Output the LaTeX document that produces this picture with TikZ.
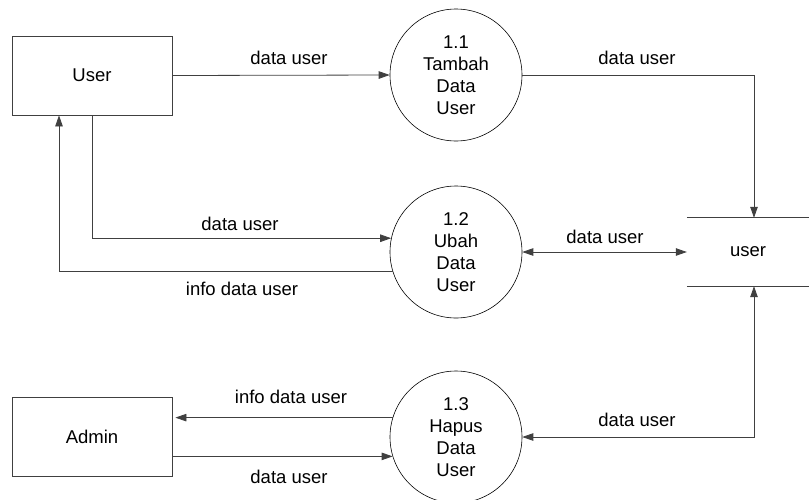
\documentclass[tikz,border=0pt]{standalone}
\usepackage{fontspec}
\setmainfont{Liberation Sans}
\usetikzlibrary{arrows.meta}

\definecolor{edgeclr}{gray}{0.25}

\tikzset{
  x=1pt, y=1pt,
  every node/.style={font=\fontsize{18.5}{22}\selectfont},
  entity/.style={draw=edgeclr, line width=0.8pt, minimum width=160pt, minimum height=79pt, inner sep=0pt},
  process/.style={draw=black, line width=0.6pt, circle, minimum size=132pt, inner sep=0pt, align=center},
  storebox/.style={minimum width=122pt, minimum height=68pt, inner sep=0pt},
  storeline/.style={draw=edgeclr, line width=0.8pt},
  flow/.style={draw=edgeclr, line width=0.8pt, -{Triangle[length=11pt,width=7.5pt]}},
  biflow/.style={draw=edgeclr, line width=0.8pt, {Triangle[length=11pt,width=7.5pt]}-{Triangle[length=11pt,width=7.5pt]}},
  lbl/.style={inner sep=0pt}
}

\begin{document}
\begin{tikzpicture}
\useasboundingbox (0,0) rectangle (809,-499);

% external entities
\node[entity] (u) at (92,-75.5) {User};
\node[entity] (a) at (92,-437) {Admin};

% processes
\node[process] (c1) at (456,-75) {1.1\\Tambah\\Data\\User};
\node[process] (c2) at (456,-252) {1.2\\Ubah\\Data\\User};
\node[process] (c3) at (456,-437) {1.3\\Hapus\\Data\\User};

% data store
\node[storebox] (st) at (748,-252) {user};
\draw[storeline] (st.north west) -- (st.north east);
\draw[storeline] (st.south west) -- (st.south east);
\coordinate (stin)  at ([xshift=6pt]st.north);
\coordinate (stout) at ([xshift=6pt]st.south);
\coordinate (uinfo) at ([xshift=-33pt]u.south);

% data flows
\draw[flow] (u.east) -- (c1.west);
\draw[flow] (c1.east) -| (stin);
\draw[flow] (u.south) |- (c2.168.6);
\draw[flow] (c2.197.6) -| (uinfo);
\draw[biflow] (c2.east) -- (st.west);
\draw[biflow] (c3.east) -| (stout);
\draw[flow] (c3.163.3) -- ([xshift=3pt]c3.163.3 -| a.east);
\draw[flow] (c3.197.6 -| a.east) -- (c3.197.6);

% flow labels
\node[lbl] at (289,-58) {data user};
\node[lbl] at (637,-58) {data user};
\node[lbl] at (240,-224) {data user};
\node[lbl] at (242,-289) {info data user};
\node[lbl] at (605,-237) {data user};
\node[lbl] at (291,-397) {info data user};
\node[lbl] at (289,-477) {data user};
\node[lbl] at (637,-420) {data user};
\end{tikzpicture}
\end{document}
